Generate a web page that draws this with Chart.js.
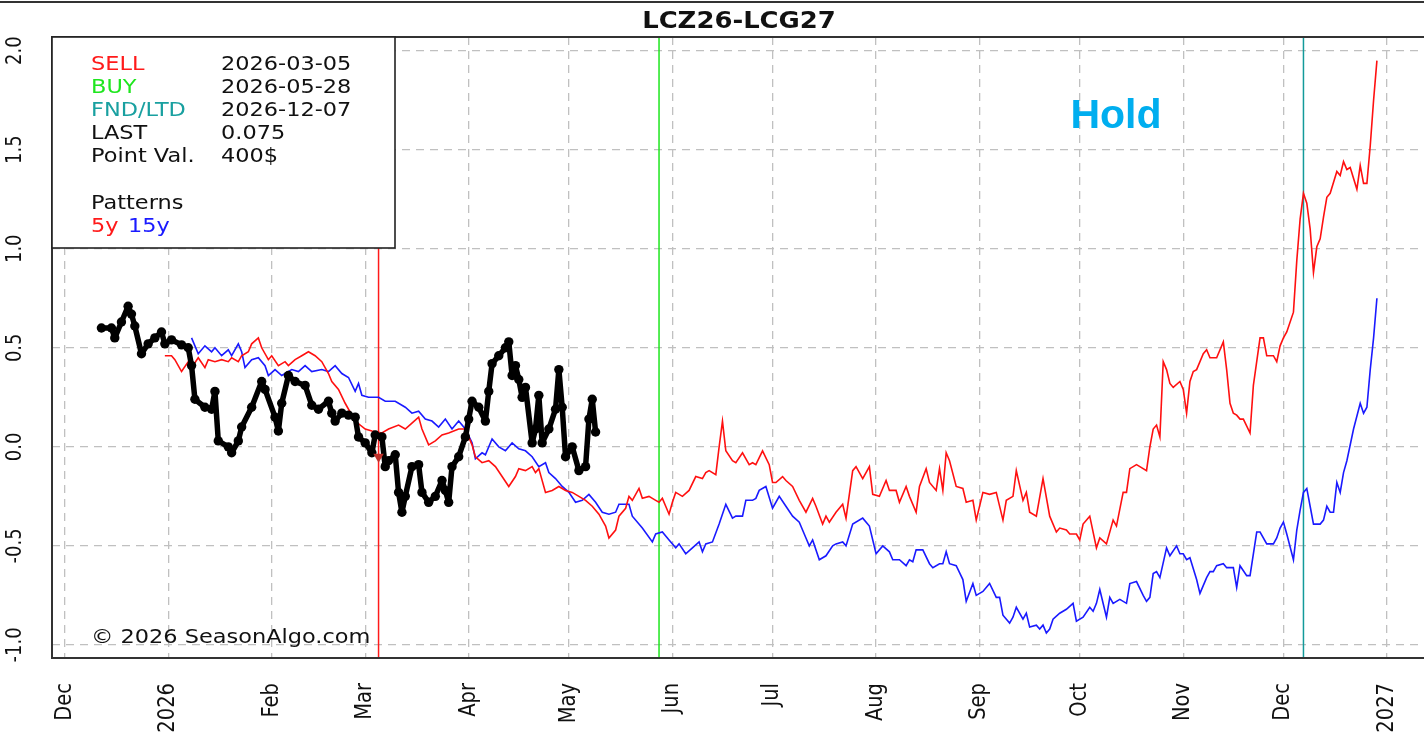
<!DOCTYPE html>
<html>
<head>
<meta charset="utf-8">
<title>LCZ26-LCG27</title>
<script src="https://cdn.jsdelivr.net/npm/chart.js@4.4.1/dist/chart.umd.min.js"></script>
<style>
    html, body { margin: 0; padding: 0; background: #fff; }
    canvas { display: block; }
</style>
</head>
<body>
<canvas id="chart" width="1424" height="733"></canvas>
<script>
// every x value is a day count after 2025-12-01
const tickDays = [0, 31, 62, 90, 121, 151, 182, 212, 243, 274, 304, 335, 365, 396];
const tickLabels = ['Dec', '2026', 'Feb', 'Mar', 'Apr', 'May', 'Jun', 'Jul', 'Aug', 'Sep', 'Oct', 'Nov', 'Dec', '2027'];
const yTicks = [-1.0, -0.5, 0.0, 0.5, 1.0, 1.5, 2.0];

const sellDay = 94;   // 2026-03-05
const buyDay = 178;   // 2026-05-28
const fndDay = 371;   // 2026-12-07
const sellMarkValue = -0.05;

const infoLabels = ['SELL', 'BUY', 'FND/LTD', 'LAST', 'Point Val.'];
const infoValues = ['2026-03-05', '2026-05-28', '2026-12-07', '0.075', '400$'];

// current spread (black)
const lastDays = [11, 14, 15, 17, 19, 20, 21, 23, 25, 27, 29, 30, 32, 35, 37, 38, 39, 42, 44, 45,
    46, 49, 50, 52, 53, 56, 59, 60, 63, 64, 65, 67, 69, 72, 74, 76, 79, 80, 81, 83,
    85, 87, 88, 90, 92, 93, 95, 96, 97, 99, 100, 101, 102, 104, 106, 107, 109, 111, 113, 114,
    115, 116, 118, 120, 121, 122, 124, 126, 127, 128, 130, 132, 133, 134, 135, 136, 137, 138, 140, 141,
    142, 143, 145, 147, 148, 149, 150, 152, 154, 156, 157, 158, 159];
const lastValues = [0.60, 0.60, 0.55, 0.63, 0.71, 0.67, 0.61, 0.47, 0.52, 0.55, 0.58, 0.52, 0.54, 0.515, 0.50, 0.41, 0.24, 0.20, 0.19, 0.28,
    0.03, 0.00, -0.03, 0.03, 0.10, 0.20, 0.33, 0.29, 0.15, 0.08, 0.22, 0.36, 0.33, 0.31, 0.21, 0.19, 0.23, 0.17, 0.13, 0.17,
    0.16, 0.15, 0.05, 0.02, -0.03, 0.06, 0.05, -0.10, -0.07, -0.04, -0.23, -0.33, -0.25, -0.10, -0.09, -0.23, -0.28, -0.25, -0.17, -0.22,
    -0.28, -0.10, -0.05, 0.05, 0.14, 0.23, 0.20, 0.13, 0.28, 0.42, 0.46, 0.50, 0.53, 0.36, 0.41, 0.34, 0.25, 0.30, 0.02, 0.09,
    0.26, 0.02, 0.09, 0.19, 0.39, 0.20, -0.05, 0.00, -0.12, -0.10, 0.14, 0.24, 0.075];

// 5 year pattern (red)
const pattern5Days = [30, 32, 33, 35, 37, 38, 40, 42, 43, 45, 47, 49, 50, 52, 53, 55, 56, 58, 59, 61,
    62, 64, 66, 67, 69, 71, 73, 75, 77, 79, 80, 82, 84, 87, 90, 92, 95, 97, 100, 102,
    104, 106, 107, 109, 111, 113, 115, 118, 120, 122, 123, 125, 127, 129, 131, 133, 135, 136, 138, 140,
    141, 142, 144, 146, 148, 150, 152, 154, 156, 158, 160, 162, 163, 165, 166, 168, 169, 170, 172, 173,
    175, 177, 178, 179, 180, 181, 182, 183, 185, 187, 189, 191, 192, 193, 195, 196, 197, 198, 200, 201,
    203, 205, 206, 207, 209, 211, 212, 213, 215, 216, 218, 220, 222, 224, 225, 227, 228, 229, 231, 233,
    234, 236, 237, 239, 241, 242, 244, 246, 247, 249, 250, 252, 253, 255, 256, 258, 259, 261, 262, 263,
    264, 265, 267, 269, 270, 272, 273, 275, 277, 279, 281, 282, 284, 285, 287, 288, 289, 291, 293, 295,
    297, 298, 300, 301, 303, 304, 305, 307, 309, 310, 312, 314, 315, 317, 318, 319, 321, 322, 324, 325,
    326, 327, 328, 329, 330, 331, 332, 334, 335, 336, 337, 338, 339, 341, 342, 343, 345, 347, 348, 349,
    350, 351, 352, 353, 355, 356, 358, 359, 360, 362, 363, 364, 365, 366, 368, 369, 370, 371, 372, 373,
    374, 375, 376, 377, 378, 379, 381, 382, 383, 384, 385, 387, 388, 389, 390, 391, 392, 393];
const pattern5Values = [0.46, 0.46, 0.44, 0.38, 0.43, 0.40, 0.45, 0.40, 0.44, 0.43, 0.44, 0.43, 0.45, 0.43, 0.46, 0.48, 0.52, 0.55, 0.50, 0.44,
    0.46, 0.41, 0.43, 0.41, 0.44, 0.46, 0.48, 0.46, 0.43, 0.37, 0.33, 0.29, 0.22, 0.13, 0.09, 0.08, 0.07, 0.09, 0.11, 0.09,
    0.12, 0.15, 0.09, 0.01, 0.03, 0.06, 0.07, 0.09, 0.09, 0.01, -0.05, -0.08, -0.07, -0.10, -0.15, -0.20, -0.15, -0.11, -0.12, -0.10,
    -0.13, -0.11, -0.23, -0.22, -0.20, -0.22, -0.23, -0.25, -0.27, -0.30, -0.34, -0.40, -0.46, -0.42, -0.35, -0.31, -0.25, -0.27, -0.21, -0.26,
    -0.25, -0.27, -0.28, -0.26, -0.30, -0.34, -0.28, -0.23, -0.25, -0.22, -0.15, -0.16, -0.13, -0.12, -0.14, 0.00, 0.13, -0.02, -0.07, -0.08,
    -0.03, -0.09, -0.08, -0.09, -0.02, -0.09, -0.18, -0.18, -0.15, -0.17, -0.20, -0.27, -0.33, -0.26, -0.30, -0.39, -0.35, -0.38, -0.33, -0.29,
    -0.36, -0.12, -0.10, -0.16, -0.10, -0.24, -0.25, -0.17, -0.22, -0.22, -0.28, -0.20, -0.25, -0.33, -0.20, -0.11, -0.18, -0.22, -0.11, -0.22,
    -0.03, -0.07, -0.20, -0.21, -0.28, -0.27, -0.37, -0.23, -0.24, -0.23, -0.37, -0.27, -0.25, -0.12, -0.27, -0.23, -0.33, -0.35, -0.16, -0.35,
    -0.43, -0.41, -0.42, -0.44, -0.44, -0.47, -0.39, -0.35, -0.51, -0.46, -0.49, -0.37, -0.40, -0.23, -0.23, -0.11, -0.09, -0.10, -0.12, 0.00,
    0.09, 0.11, 0.05, 0.43, 0.39, 0.32, 0.30, 0.33, 0.29, 0.17, 0.33, 0.38, 0.39, 0.47, 0.49, 0.45, 0.45, 0.53, 0.39, 0.22,
    0.17, 0.16, 0.14, 0.14, 0.07, 0.31, 0.55, 0.55, 0.46, 0.46, 0.43, 0.51, 0.55, 0.58, 0.68, 0.94, 1.15, 1.28, 1.23, 1.10,
    0.88, 1.01, 1.05, 1.16, 1.26, 1.28, 1.39, 1.37, 1.44, 1.40, 1.41, 1.30, 1.42, 1.33, 1.33, 1.52, 1.75, 1.95];

// 15 year pattern (blue)
const pattern15Days = [38, 40, 42, 44, 45, 47, 49, 50, 52, 53, 54, 56, 58, 60, 61, 63, 65, 68, 70, 72,
    74, 77, 79, 81, 83, 85, 87, 88, 89, 91, 94, 96, 99, 102, 104, 106, 108, 110, 112, 114,
    116, 118, 120, 122, 123, 125, 126, 128, 130, 132, 134, 136, 138, 140, 142, 144, 145, 147, 149, 151,
    153, 155, 157, 159, 161, 163, 165, 166, 169, 170, 173, 176, 177, 179, 181, 183, 184, 186, 188, 190,
    191, 192, 194, 196, 198, 200, 201, 203, 204, 206, 207, 208, 210, 212, 214, 216, 218, 220, 222, 223,
    224, 226, 228, 230, 231, 233, 234, 236, 239, 241, 243, 245, 247, 248, 250, 252, 253, 254, 255, 257,
    259, 260, 262, 263, 264, 265, 267, 269, 270, 272, 273, 275, 277, 279, 280, 281, 283, 284, 285, 287,
    288, 289, 291, 292, 293, 294, 295, 296, 298, 300, 302, 303, 305, 307, 308, 309, 310, 312, 313, 314,
    316, 318, 319, 321, 323, 324, 325, 326, 327, 328, 330, 331, 333, 334, 335, 336, 337, 339, 340, 342,
    343, 344, 345, 347, 348, 350, 351, 352, 354, 355, 357, 358, 360, 362, 363, 364, 365, 366, 368, 369,
    370, 371, 372, 373, 374, 376, 377, 378, 379, 380, 381, 382, 383, 384, 386, 388, 389, 390, 391, 392,
    393];
const pattern15Values = [0.55, 0.47, 0.51, 0.48, 0.50, 0.46, 0.49, 0.46, 0.52, 0.48, 0.40, 0.44, 0.45, 0.41, 0.36, 0.39, 0.36, 0.39, 0.38, 0.41,
    0.38, 0.39, 0.38, 0.41, 0.37, 0.35, 0.28, 0.32, 0.26, 0.25, 0.25, 0.23, 0.23, 0.20, 0.17, 0.18, 0.14, 0.13, 0.10, 0.14,
    0.09, 0.13, 0.09, 0.02, -0.06, -0.03, -0.04, 0.04, 0.00, -0.02, 0.02, -0.01, -0.02, -0.05, -0.10, -0.08, -0.13, -0.16, -0.20, -0.23,
    -0.28, -0.27, -0.24, -0.28, -0.33, -0.34, -0.33, -0.29, -0.29, -0.35, -0.41, -0.48, -0.44, -0.43, -0.47, -0.51, -0.49, -0.54, -0.51, -0.48,
    -0.53, -0.49, -0.48, -0.39, -0.29, -0.36, -0.35, -0.35, -0.27, -0.27, -0.26, -0.22, -0.20, -0.31, -0.25, -0.30, -0.35, -0.38, -0.46, -0.50,
    -0.47, -0.57, -0.55, -0.50, -0.49, -0.48, -0.50, -0.39, -0.36, -0.40, -0.54, -0.50, -0.53, -0.57, -0.57, -0.60, -0.57, -0.58, -0.52, -0.52,
    -0.59, -0.61, -0.59, -0.59, -0.53, -0.59, -0.60, -0.67, -0.78, -0.69, -0.75, -0.73, -0.69, -0.76, -0.76, -0.85, -0.89, -0.86, -0.81, -0.87,
    -0.84, -0.91, -0.90, -0.92, -0.90, -0.94, -0.92, -0.87, -0.84, -0.82, -0.79, -0.88, -0.86, -0.81, -0.83, -0.79, -0.72, -0.86, -0.76, -0.79,
    -0.77, -0.79, -0.69, -0.68, -0.75, -0.78, -0.76, -0.64, -0.63, -0.66, -0.51, -0.55, -0.50, -0.54, -0.54, -0.57, -0.56, -0.67, -0.74, -0.66,
    -0.63, -0.63, -0.60, -0.59, -0.61, -0.61, -0.71, -0.60, -0.65, -0.65, -0.43, -0.43, -0.49, -0.49, -0.46, -0.41, -0.38, -0.44, -0.57, -0.42,
    -0.32, -0.23, -0.21, -0.30, -0.39, -0.39, -0.37, -0.30, -0.33, -0.33, -0.18, -0.23, -0.13, -0.07, 0.09, 0.22, 0.17, 0.20, 0.39, 0.55,
    0.75];

const yMin = -1.066;
const yMax = 2.069;
const xMin = -3.8;
const xMax = 407.1;
const STRETCH = 1.15;

function points(days, values) {
    return days.map(function (d, i) { return { x: d, y: values[i] }; });
}

function vline(day) {
    return [{ x: day, y: yMin }, { x: day, y: yMax }];
}

function putText(ctx, text, x, y, font, color, align, baseline, rotated) {
    ctx.save();
    ctx.font = font;
    ctx.fillStyle = color;
    ctx.textAlign = align || 'left';
    ctx.textBaseline = baseline || 'alphabetic';
    ctx.translate(x, y);
    ctx.scale(STRETCH, 1);
    if (rotated) ctx.rotate(-Math.PI / 2);
    ctx.fillText(text, 0, 0);
    ctx.restore();
}

let decorations = {
    id: 'decorations',
    afterDraw: function (chart) {
        let ctx = chart.ctx;
        let area = chart.chartArea;
        let xs = chart.scales.x;
        let ys = chart.scales.y;
        const font = '19.5px "DejaVu Sans"';

        // frame
        ctx.save();
        ctx.strokeStyle = '#333';
        ctx.lineWidth = 2;
        ctx.beginPath();
        ctx.moveTo(0, 2);
        ctx.lineTo(chart.width, 2);
        ctx.moveTo(chart.width, area.top);
        ctx.lineTo(area.left, area.top);
        ctx.lineTo(area.left, area.bottom);
        ctx.lineTo(chart.width, area.bottom);
        ctx.stroke();

        // info box
        ctx.fillStyle = '#fff';
        ctx.fillRect(area.left, area.top, 343, 211);
        ctx.lineWidth = 1.6;
        ctx.strokeStyle = '#222';
        ctx.strokeRect(area.left, area.top, 343, 211);
        ctx.restore();

        let colors = ['#ff1a1a', '#1ee61e', '#19a0a0', '#111', '#111'];
        for (let i = 0; i < infoLabels.length; i++) {
            let y = 70 + i * 23;
            putText(ctx, infoLabels[i], 91, y, font, colors[i]);
            putText(ctx, infoValues[i], 221, y, font, '#111');
        }
        putText(ctx, 'Patterns', 91, 209, font, '#111');
        putText(ctx, '5y', 91, 232, font, '#ff1a1a');
        putText(ctx, '15y', 128, 232, font, '#1a1aff');

        putText(ctx, '\u00a9 2026 SeasonAlgo.com', 91, 643, font, '#111');
        putText(ctx, 'LCZ26-LCG27', 739, 28, 'bold 22.5px "DejaVu Sans"', '#111', 'center');

        ctx.save();
        ctx.font = 'bold 41px "Liberation Sans"';
        ctx.fillStyle = '#00aeef';
        ctx.textAlign = 'center';
        ctx.fillText('Hold', 1116, 128);
        ctx.restore();

        // axis labels, vertical as in the original
        for (let i = 0; i < tickDays.length; i++) {
            putText(ctx, tickLabels[i], xs.getPixelForValue(tickDays[i]), 683, font, '#111', 'right', 'middle', true);
        }
        for (let v of yTicks) {
            putText(ctx, v.toFixed(1), 16, ys.getPixelForValue(v), '18px "DejaVu Sans"', '#111', 'center', 'middle', true);
        }
    }
};

new Chart(document.getElementById('chart').getContext('2d'), {
    type: 'line',
    data: {
        datasets: [{
            data: [{ x: sellDay, y: sellMarkValue }],
            showLine: false,
            pointStyle: 'triangle',
            rotation: 180,
            pointRadius: 6,
            pointBackgroundColor: '#c0302a',
            pointBorderColor: '#c0302a',
            pointBorderWidth: 0
        }, {
            data: points(lastDays, lastValues),
            borderColor: '#000',
            borderWidth: 5.5,
            pointRadius: 4.7,
            pointBackgroundColor: '#000',
            pointBorderWidth: 0,
            borderJoinStyle: 'round'
        }, {
            data: points(pattern5Days, pattern5Values),
            borderColor: '#ff1010',
            borderWidth: 1.6,
            pointRadius: 0
        }, {
            data: points(pattern15Days, pattern15Values),
            borderColor: '#1a1aff',
            borderWidth: 1.6,
            pointRadius: 0
        }, {
            data: vline(sellDay),
            borderColor: '#ff1a1a',
            borderWidth: 1.5,
            pointRadius: 0
        }, {
            data: vline(buyDay),
            borderColor: '#1ee61e',
            borderWidth: 1.5,
            pointRadius: 0
        }, {
            data: vline(fndDay),
            borderColor: '#139a9a',
            borderWidth: 1.5,
            pointRadius: 0
        }]
    },
    options: {
        responsive: false,
        animation: false,
        devicePixelRatio: 1,
        layout: { autoPadding: false, padding: { top: 37, left: 0, right: 0, bottom: 0 } },
        plugins: {
            legend: { display: false },
            tooltip: { enabled: false },
            title: { display: false }
        },
        elements: { line: { tension: 0 } },
        scales: {
            x: {
                type: 'linear',
                min: xMin,
                max: xMax,
                afterBuildTicks: function (scale) {
                    scale.ticks = tickDays.map(function (d) { return { value: d }; });
                },
                afterFit: function (scale) { scale.height = 75; },
                ticks: { display: false },
                grid: { color: '#c0c0c0', lineWidth: 1.3, drawTicks: false },
                border: { display: false, dash: [8, 6] }
            },
            y: {
                type: 'linear',
                min: yMin,
                max: yMax,
                afterBuildTicks: function (scale) {
                    scale.ticks = yTicks.map(function (v) { return { value: v }; });
                },
                afterFit: function (scale) { scale.width = 52; },
                ticks: { display: false },
                grid: { color: '#c0c0c0', lineWidth: 1.3, drawTicks: false },
                border: { display: false, dash: [8, 6] }
            }
        }
    },
    plugins: [decorations]
});
</script>
</body>
</html>
